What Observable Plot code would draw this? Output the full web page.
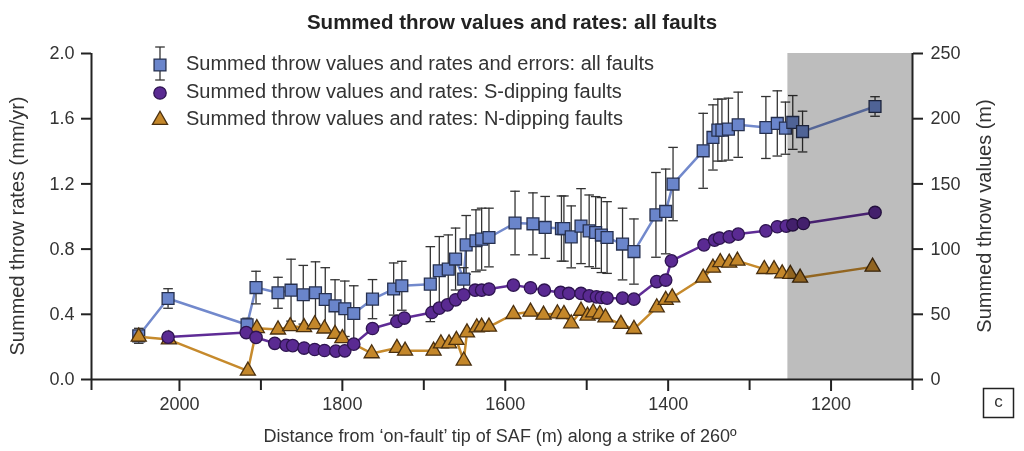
<!DOCTYPE html>
<html><head><meta charset="utf-8">
<script src="https://cdn.jsdelivr.net/npm/d3@7"></script>
<script src="https://cdn.jsdelivr.net/npm/@observablehq/plot@0.6"></script>
<style>
body{margin:0;background:#fff;font-family:"Liberation Sans",Arial,sans-serif;}
#wrap{position:relative;width:1024px;height:451px;overflow:hidden;background:#fff}
#title{position:absolute;left:0;top:10px;width:1024px;text-align:center;font-weight:bold;font-size:20.5px;color:#222;line-height:24px}
#legend{position:absolute;left:0;top:0}
</style></head>
<body><div id="wrap"><div id="chart"></div><div id="title">Summed throw values and rates: all faults</div><svg id="legend" width="700" height="140"></svg></div>
<script>
// ---- data (distance in m, rate in mm/yr) ----
const allDist = [2050,2014,1917,1906,1879,1863,1848,1833,1821,1809,1797,1786,1763,1737,1727,1692,1681,1670,1661,1651,1648,1636,1629,1620,1588,1566,1551,1531,1528,1519,1507,1497,1489,1482,1475,1456,1442,1415,1403,1394,1357,1345,1339,1334,1326,1314,1280,1266,1256,1247,1235,1146];
const allRate = [0.268,0.497,0.336,0.564,0.532,0.548,0.520,0.532,0.491,0.452,0.434,0.405,0.493,0.555,0.575,0.585,0.667,0.677,0.739,0.616,0.826,0.851,0.861,0.871,0.960,0.955,0.933,0.926,0.926,0.875,0.941,0.912,0.902,0.886,0.871,0.831,0.785,1.010,1.031,1.199,1.403,1.485,1.530,1.530,1.536,1.563,1.546,1.571,1.542,1.577,1.521,1.675];
const allErr = [0.046,0.06,0.04,0.10,0.095,0.19,0.18,0.19,0.195,0.16,0.17,0.17,0.12,0.16,0.15,0.23,0.21,0.21,0.19,0.07,0.18,0.19,0.19,0.18,0.195,0.19,0.19,0.2,0.2,0.19,0.23,0.22,0.22,0.23,0.22,0.22,0.2,0.26,0.26,0.225,0.23,0.2,0.19,0.19,0.19,0.2,0.19,0.2,0.16,0.165,0.125,0.06];

const sDist = [2014,1918,1906,1883,1869,1861,1847,1834,1822,1808,1797,1786,1763,1733,1724,1690,1681,1671,1661,1651,1637,1629,1620,1590,1569,1552,1532,1522,1507,1497,1488,1482,1475,1456,1442,1414,1403,1396,1356,1343,1337,1325,1314,1280,1266,1255,1247,1234,1146];
const sRate = [0.260,0.288,0.258,0.222,0.210,0.208,0.193,0.184,0.178,0.174,0.176,0.217,0.313,0.356,0.377,0.411,0.438,0.458,0.489,0.520,0.548,0.548,0.555,0.579,0.563,0.548,0.534,0.528,0.528,0.513,0.507,0.503,0.499,0.499,0.493,0.601,0.610,0.728,0.826,0.855,0.867,0.875,0.892,0.912,0.937,0.941,0.949,0.957,1.025];

const nDist = [2050,2013,1916,1905,1879,1864,1847,1834,1822,1809,1800,1764,1733,1723,1688,1679,1669,1660,1651,1647,1635,1629,1620,1590,1569,1553,1536,1528,1519,1507,1499,1492,1484,1477,1458,1442,1414,1403,1395,1357,1345,1336,1325,1315,1282,1270,1260,1250,1238,1149];
const nRate = [0.262,0.245,0.053,0.314,0.306,0.326,0.320,0.338,0.312,0.279,0.253,0.160,0.193,0.176,0.176,0.221,0.221,0.242,0.115,0.288,0.319,0.323,0.323,0.401,0.415,0.397,0.405,0.401,0.344,0.421,0.391,0.411,0.401,0.380,0.340,0.309,0.442,0.487,0.503,0.624,0.685,0.719,0.716,0.728,0.677,0.676,0.650,0.647,0.624,0.691];

const xDomain = [2108, 1100];
const yDomain = [0, 2.0];
const xTicksMajor = [2000, 1800, 1600, 1400, 1200];
const xTicksMinor = [1900, 1700, 1500, 1300, 1100];
const yTicks = [0, 0.4, 0.8, 1.2, 1.6, 2.0];
const rightTickLabels = [0, 50, 100, 150, 200, 250];
const throwPerRate = 250 / 2.0; // m of throw per mm/yr on the twin axis
const shaded = [{x1: 1253, x2: 1100}];

const legendLabels = [
  "Summed throw values and rates and errors: all faults",
  "Summed throw values and rates: S-dipping faults",
  "Summed throw values and rates: N-dipping faults"
];
const titleX = "Distance from \u2018on-fault\u2019 tip of SAF (m) along a strike of 260\u00ba";
const titleYLeft = "Summed throw rates (mm/yr)";
const titleYRight = "Summed throw values (m)";

// ---- styles ----
const C = {
  allLine: "#7289cc", allFill: "#6a85cb", allStroke: "#26304f",
  sLine: "#5f2c96", sFill: "#5a2a92", sStroke: "#2e1450",
  nLine: "#c68a2c", nFill: "#c4872a", nStroke: "#4a3010",
  err: "#333", axis: "#222", text: "#333"
};
const R = {sq: 6.7, ci: 6.2, tr: 5.6};

const all = allDist.map((d, i) => ({d, r: allRate[i], e: allErr[i]}));
const sdip = sDist.map((d, i) => ({d, r: sRate[i]}));
const ndip = nDist.map((d, i) => ({d, r: nRate[i]}));

const capSymbol = {draw(ctx, size) { const w = Math.sqrt(size / Math.PI); ctx.moveTo(-w, 0); ctx.lineTo(w, 0); }};
const font = '"Liberation Sans", Arial, sans-serif';

const plot = Plot.plot({
  width: 1024, height: 451,
  marginLeft: 91, marginRight: 112, marginTop: 53, marginBottom: 72,
  x: {domain: xDomain},
  y: {domain: yDomain},
  style: {fontFamily: font, fontSize: "18px", color: C.axis, background: "white", overflow: "visible"},
  marks: [
    Plot.line(all, {x: "d", y: "r", stroke: C.allLine, strokeWidth: 2.5}),
    Plot.ruleX(all, {x: "d", y1: d => d.r - d.e, y2: d => d.r + d.e, stroke: C.err, strokeWidth: 1.3}),
    Plot.dot(all, {x: "d", y: d => d.r + d.e, symbol: capSymbol, r: 4.8, fill: "none", stroke: C.err, strokeWidth: 1.3}),
    Plot.dot(all, {x: "d", y: d => d.r - d.e, symbol: capSymbol, r: 4.8, fill: "none", stroke: C.err, strokeWidth: 1.3}),
    Plot.dot(all, {x: "d", y: "r", symbol: "square", r: R.sq, fill: C.allFill, stroke: C.allStroke, strokeWidth: 1.3}),
    Plot.line(ndip, {x: "d", y: "r", stroke: C.nLine, strokeWidth: 2.5}),
    Plot.dot(ndip, {x: "d", y: "r", symbol: "triangle", r: R.tr, fill: C.nFill, stroke: C.nStroke, strokeWidth: 1.3}),
    Plot.line(sdip, {x: "d", y: "r", stroke: C.sLine, strokeWidth: 2.5}),
    Plot.dot(sdip, {x: "d", y: "r", symbol: "circle", r: R.ci, fill: C.sFill, stroke: C.sStroke, strokeWidth: 1.3}),
    Plot.rect(shaded, {x1: "x1", x2: "x2", y1: yDomain[0], y2: yDomain[1], fill: "#bdbdbd", mixBlendMode: "multiply"}),
    Plot.ruleY([0], {stroke: C.axis, strokeWidth: 2}),
    Plot.ruleX(xDomain, {stroke: C.axis, strokeWidth: 2}),
    Plot.axisX(xTicksMajor, {tickSize: 12, tickPadding: 6, tickFormat: d => String(d), fontSize: 18, stroke: C.axis, fill: C.text, strokeWidth: 2, label: null}),
    Plot.axisX([xDomain[0], ...xTicksMinor], {tickSize: 11, tickFormat: () => "", stroke: C.axis, strokeWidth: 2, label: null}),
    Plot.axisY(yTicks, {anchor: "left", tickSize: 10, tickPadding: 7, tickFormat: d => d.toFixed(1), fontSize: 18, stroke: C.axis, fill: C.text, strokeWidth: 2, label: null}),
    Plot.axisY(rightTickLabels.map(v => v / throwPerRate), {anchor: "right", tickSize: 10, tickPadding: 8, tickFormat: d => String(Math.round(d * throwPerRate)), fontSize: 18, stroke: C.axis, fill: C.text, strokeWidth: 2, label: null})
  ]
});
document.getElementById("chart").appendChild(plot);

const svg = d3.select(plot);
svg.append("text").attr("transform", "translate(19,226) rotate(-90)").attr("text-anchor", "middle").attr("dominant-baseline", "middle")
  .attr("font-size", 20).attr("fill", C.text).attr("font-family", font).text(titleYLeft);
svg.append("text").attr("transform", "translate(986,216) rotate(-90)").attr("text-anchor", "middle").attr("dominant-baseline", "middle")
  .attr("font-size", 20).attr("fill", C.text).attr("font-family", font).text(titleYRight);
svg.append("text").attr("x", 500).attr("y", 437).attr("text-anchor", "middle").attr("dominant-baseline", "middle")
  .attr("font-size", 18).attr("fill", C.text).attr("font-family", font).text(titleX);
svg.append("rect").attr("x", 983.5).attr("y", 388.5).attr("width", 30).attr("height", 29).attr("fill", "white").attr("stroke", C.axis).attr("stroke-width", 1.5);
svg.append("text").attr("x", 998.5).attr("y", 403).attr("text-anchor", "middle").attr("dominant-baseline", "middle")
  .attr("font-size", 17).attr("fill", C.text).attr("font-family", font).text("c");

// ---- legend ----
const lg = d3.select("#legend");
const lx = 160, ly = [65, 93, 120];
lg.append("line").attr("x1", lx).attr("x2", lx).attr("y1", 47).attr("y2", 80).attr("stroke", C.err).attr("stroke-width", 1.3);
lg.append("line").attr("x1", lx - 4.8).attr("x2", lx + 4.8).attr("y1", 47).attr("y2", 47).attr("stroke", C.err).attr("stroke-width", 1.3);
lg.append("line").attr("x1", lx - 4.8).attr("x2", lx + 4.8).attr("y1", 80).attr("y2", 80).attr("stroke", C.err).attr("stroke-width", 1.3);
const syms = [[d3.symbolSquare, R.sq, C.allFill, C.allStroke], [d3.symbolCircle, R.ci, C.sFill, C.sStroke], [d3.symbolTriangle, R.tr, C.nFill, C.nStroke]];
syms.forEach(([s, r, f, st], i) => {
  lg.append("path").attr("d", d3.symbol(s, Math.PI * r * r)()).attr("transform", `translate(${lx},${ly[i]})`)
    .attr("fill", f).attr("stroke", st).attr("stroke-width", 1.3);
  lg.append("text").attr("x", 186).attr("y", ly[i]).attr("dominant-baseline", "middle").attr("font-size", 20)
    .attr("font-family", font).attr("fill", C.text).text(legendLabels[i]);
});
</script>
</body></html>
